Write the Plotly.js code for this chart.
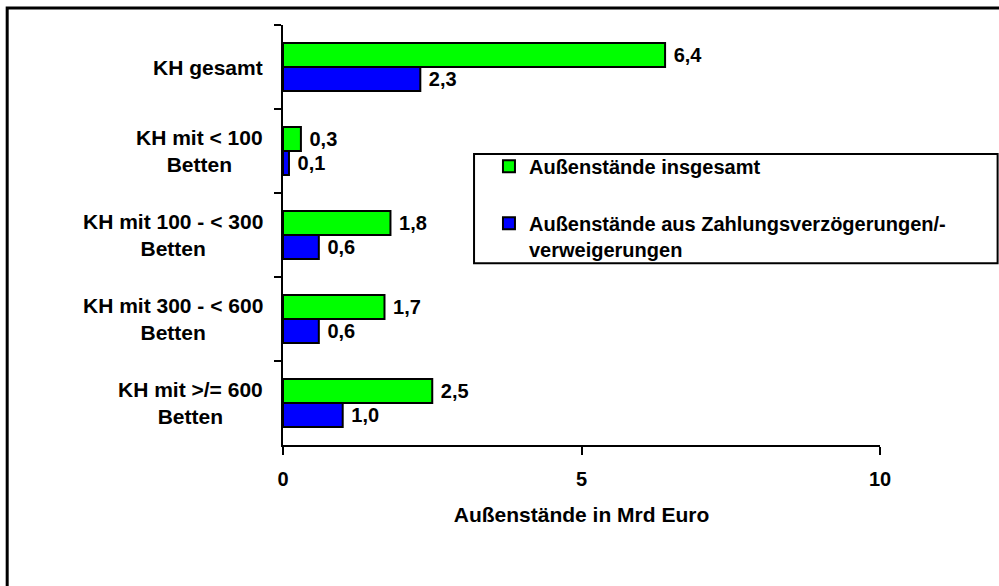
<!DOCTYPE html>
<html>
<head>
<meta charset="utf-8">
<script src="https://cdn.plot.ly/plotly-3.0.1.min.js"></script>
<style>
  html, body { margin: 0; padding: 0; background: #fff; }
  #chart { width: 999px; height: 586px; }
</style>
</head>
<body>
<div id="chart"></div>
<script>
var categories = ['KH gesamt', 'KH mit < 100<br>Betten', 'KH mit 100 - < 300<br>Betten',
                  'KH mit 300 - < 600<br>Betten', 'KH mit >/= 600<br>Betten'];
var seriesNames = ['Außenstände insgesamt', 'Außenstände aus Zahlungsverzögerungen/-<br>verweigerungen'];
var totalValues = [6.4, 0.3, 1.8, 1.7, 2.5];
var delayedValues = [2.3, 0.1, 0.6, 0.6, 1.0];
var xTicks = [0, 5, 10];

var fontFamily = '"Liberation Sans", Arial, sans-serif';

function barTrace(name, values, color, group) {
  return {
    type: 'bar',
    orientation: 'h',
    name: name,
    legendgroup: group,
    x: values,
    y: categories,
    marker: { color: color, line: { color: '#000', width: 2 } },
    // nbsp keeps a little gap between bar end and label
    texttemplate: '\u00a0%{x:.1f}',
    textposition: 'outside',
    constraintext: 'none',
    cliponaxis: false,
    textfont: { family: fontFamily, size: 20, color: '#000', weight: 'bold' },
    hoverinfo: 'skip'
  };
}

var traces = [
  barTrace(seriesNames[0], totalValues, '#00ff00', 'a'),
  barTrace(seriesNames[1], delayedValues, '#0000ff', 'b')
];

// category labels, centred block to the left of the axis
var annotations = categories.map(function(c) {
  return {
    text: c, x: -0.030, xref: 'paper', xanchor: 'right',
    y: c, yref: 'y', yanchor: 'middle', align: 'center', showarrow: false,
    font: { family: fontFamily, size: 21, color: '#000', weight: 'bold' }
  };
});

var layout = {
  width: 999,
  height: 586,
  margin: { l: 283, r: 119, t: 25, b: 141 },
  paper_bgcolor: '#fff',
  plot_bgcolor: '#fff',
  separators: ',.',
  barmode: 'group',
  bargap: 0.43,
  bargroupgap: 0,
  font: { family: fontFamily, color: '#000' },
  xaxis: {
    range: [0, 10],
    tickvals: xTicks,
    ticktext: xTicks.map(String),
    showgrid: false,
    zeroline: false,
    showline: true,
    linecolor: '#000',
    linewidth: 2,
    ticks: 'outside',
    ticklen: 8,
    tickwidth: 2,
    tickcolor: '#000',
    ticklabelstandoff: 7,
    tickfont: { family: fontFamily, size: 20, color: '#000', weight: 'bold' },
    title: {
      text: 'Außenstände in Mrd Euro',
      standoff: 18,
      font: { family: fontFamily, size: 21, color: '#000', weight: 'bold' }
    },
    fixedrange: true
  },
  yaxis: {
    autorange: 'reversed',
    showticklabels: false,
    showgrid: false,
    zeroline: false,
    showline: true,
    linecolor: '#000',
    linewidth: 2,
    ticks: 'outside',
    tickson: 'boundaries',
    ticklen: 7,
    tickwidth: 2,
    tickcolor: '#000',
    fixedrange: true
  },
  showlegend: true,
  legend: {
    x: 0.345,
    xanchor: 'left',
    y: 0.71,
    yanchor: 'top',
    bgcolor: 'rgba(0,0,0,0)',
    borderwidth: 0,
    tracegroupgap: 28,
    valign: 'top',
    font: { family: fontFamily, size: 20, color: '#000', weight: 'bold' }
  },
  annotations: annotations,
  shapes: [
    // outer frame
    { type: 'rect', xref: 'paper', yref: 'paper', x0: -0.462, x1: 2, y0: -2, y1: 1.0405,
      line: { color: '#000', width: 3 }, fillcolor: 'rgba(0,0,0,0)', layer: 'below' },
    // legend box
    { type: 'rect', xref: 'paper', yref: 'paper', x0: 0.32, x1: 1.197, y0: 0.433, y1: 0.693,
      line: { color: '#000', width: 2 }, fillcolor: 'rgba(0,0,0,0)', layer: 'above' }
  ]
};

Plotly.newPlot('chart', traces, layout, { displayModeBar: false, staticPlot: true });
</script>
</body>
</html>
